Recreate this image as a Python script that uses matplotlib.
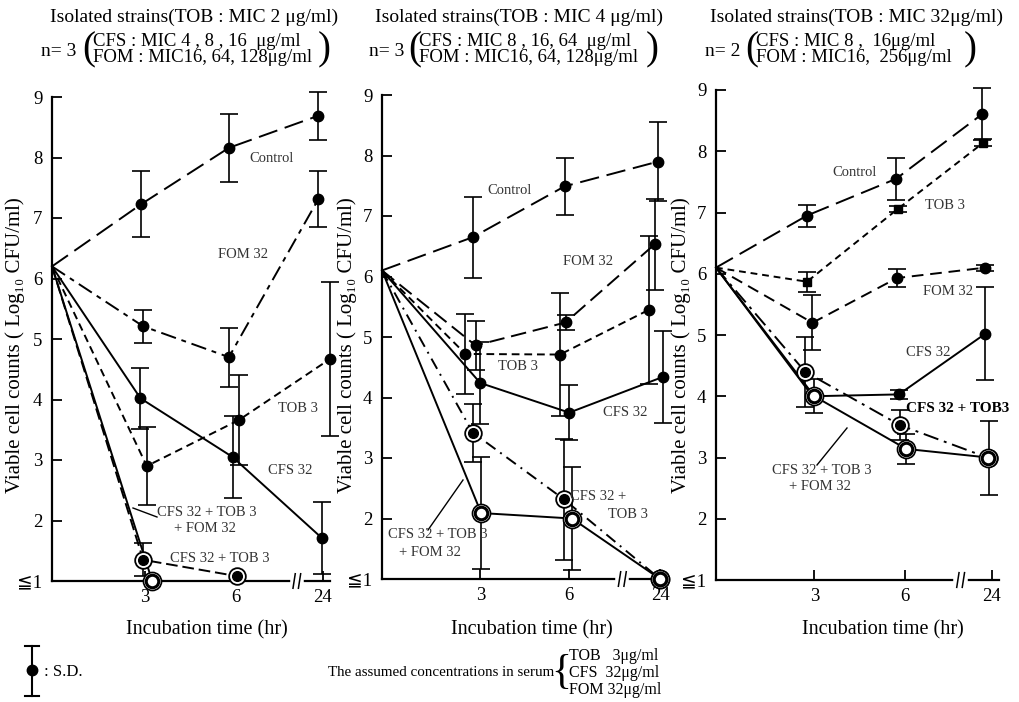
import matplotlib
matplotlib.use("Agg")
import matplotlib.pyplot as plt
from matplotlib.lines import Line2D

plt.rcParams["font.family"] = ["Liberation Serif", "DejaVu Sans"]

W, H = 1020, 702

# ---- data (log10 CFU/ml) ; first value is time 0 ----
times = ["3", "6", "24"]
y_ticks = [1, 2, 3, 4, 5, 6, 7, 8, 9]
y_labels = ["≦1", "2", "3", "4", "5", "6", "7", "8", "9"]

# panel 1: TOB MIC 2
p1_control = [6.2, 7.23, 8.16, 8.69]
p1_control_sd = [0, 0.55, 0.56, 0.40]
p1_fom = [6.2, 5.21, 4.70, 7.31]
p1_fom_sd = [0, 0.27, 0.49, 0.46]
p1_tob = [6.2, 2.90, 3.66, 4.67]
p1_tob_sd = [0, 0.65, 0.75, 1.27]
p1_cfs = [6.2, 4.02, 3.05, 1.71]
p1_cfs_sd = [0, 0.50, 0.67, 0.60]
p1_cfs_tob = [6.2, 1.35, 1.08]
p1_cfs_tob_sd = [0, 0.27, 0]
p1_triple = [6.2, 1.0]
p1_triple_sd = [0, 0]

# panel 2: TOB MIC 4
p2_control = [6.1, 6.65, 7.49, 7.90]
p2_control_sd = [0, 0.67, 0.47, 0.65]
p2_fom = [6.1, 4.86, 5.24, 6.53]
p2_fom_sd = [0, 0.40, 0.13, 0.75]
p2_tob = [6.1, 4.72, 4.71, 5.45]
p2_tob_sd = [0, 0.66, 1.02, 1.22]
p2_cfs = [6.1, 4.24, 3.75, 4.34]
p2_cfs_sd = [0, 0.68, 0.45, 0.76]
p2_cfs_tob = [6.1, 3.42, 2.32, 1.0]
p2_cfs_tob_sd = [0, 0.48, 1.0, 0]
p2_triple = [6.1, 2.09, 2.0, 1.0]
p2_triple_sd = [0, 0.92, 0.85, 0]

# panel 3: TOB MIC 32
p3_control = [6.1, 6.95, 7.55, 8.61]
p3_control_sd = [0, 0.18, 0.34, 0.43]
p3_tob = [6.1, 5.87, 7.06, 8.14]
p3_tob_sd = [0, 0.16, 0.05, 0.06]
p3_fom = [6.1, 5.20, 5.93, 6.10]
p3_fom_sd = [0, 0.45, 0.15, 0.05]
p3_cfs = [6.1, 4.0, 4.03, 5.02]
p3_cfs_sd = [0, 0, 0.08, 0.76]
p3_cfs_tob = [6.1, 4.40, 3.53, 2.99]
p3_cfs_tob_sd = [0, 0.57, 0.25, 0.60]
p3_triple = [6.1, 4.0, 3.14, 3.0]
p3_triple_sd = [0, 0.28, 0.25, 0]


def fx(x):
    return x / W


def fy(y):
    return 1 - y / H


def open_ring(ax, x, v):
    ax.plot(x, v, "o", ms=13, mfc="white", mec="k", mew=1.2,
            zorder=5, clip_on=False)
    ax.plot(x, v, "o", ms=9, mfc="white", mec="k", mew=2.2,
            zorder=6, clip_on=False)


def draw_series(ax, pos, vals, sd, dashes, marker, dx):
    xs = [p + d for p, d in zip(pos, dx)]
    ax.plot(xs[:len(vals)], vals, color="k", lw=1.4, dashes=dashes,
            zorder=2, clip_on=False)
    for x, v, s in zip(xs[1:], vals[1:], sd[1:]):
        if s > 0:
            ax.errorbar(x, v, yerr=s, fmt="none", ecolor="k", elinewidth=1.2,
                        capsize=6.5, capthick=1.2, zorder=3, clip_on=False)
        if marker == "dot":
            ax.plot(x, v, "o", ms=7.5, color="k", zorder=4, clip_on=False)
        elif marker == "square":
            ax.plot(x, v, "s", ms=5.5, color="k", zorder=4, clip_on=False)
        elif marker == "ring_dot":
            ax.plot(x, v, "o", ms=12, mfc="white", mec="k", mew=1.3,
                    zorder=5, clip_on=False)
            ax.plot(x, v, "o", ms=7, color="k", zorder=6, clip_on=False)
        elif marker == "open":
            open_ring(ax, x, v)


def setup_axes(rect, pos, brk):
    ax = fig.add_axes(rect)
    ax.set_xlim(0, 3.08)
    ax.set_ylim(1, 9)
    for s in ["top", "right"]:
        ax.spines[s].set_visible(False)
    for s in ["left", "bottom"]:
        ax.spines[s].set_linewidth(1.6)
    ax.set_xticks(pos[1:])
    ax.set_xticklabels(times)
    ax.set_yticks(y_ticks)
    ax.set_yticklabels(y_labels)
    ax.tick_params(axis="y", direction="in", length=7, width=1.3,
                   labelsize=13.5, pad=7)
    ax.tick_params(axis="x", direction="in", length=7, width=1.3,
                   labelsize=13.5, pad=6)
    # axis break on the time axis
    ax.plot([brk - 0.045, brk + 0.045], [1, 1], color="white", lw=4,
            zorder=7, clip_on=False)
    for b in (brk - 0.04, brk + 0.02):
        ax.plot([b, b + 0.025], [0.88, 1.12], color="k", lw=1.1,
                zorder=8, clip_on=False)
    return ax


fig = plt.figure(figsize=(W / 100, H / 100), dpi=100)

# ---------- panel 1 ----------
pos1 = [0, 1.03, 2.04, 3.0]
ax1 = setup_axes([fx(52), fy(581), 278 / W, 484 / H], pos1, 2.71)
draw_series(ax1, pos1, p1_control, p1_control_sd, (10, 4), "dot", [0, -0.04, -0.08, -0.05])
draw_series(ax1, pos1, p1_fom, p1_fom_sd, (8, 3, 2.5, 3), "dot", [0, -0.02, -0.08, -0.05])
draw_series(ax1, pos1, p1_tob, p1_tob_sd, (4, 2.5), "dot", [0, 0.02, 0.03, 0.08])
draw_series(ax1, pos1, p1_cfs, p1_cfs_sd, (None, None), "dot", [0, -0.05, -0.04, -0.01])
draw_series(ax1, pos1, p1_cfs_tob, p1_cfs_tob_sd, (6, 2.5), "ring_dot", [0, -0.02, 0.01, 0])
draw_series(ax1, pos1, p1_triple, p1_triple_sd, (None, None), "open", [0, 0.08, 0, 0])

# ---------- panel 2 ----------
pos2 = [0, 1.06, 2.02, 3.0]
ax2 = setup_axes([fx(382), fy(579), 285.5 / W, 484 / H], pos2, 2.59)
draw_series(ax2, pos2, p2_control, p2_control_sd, (10, 4), "dot", [0, -0.08, -0.05, -0.02])
draw_series(ax2, pos2, p2_fom, p2_fom_sd, (8, 3.5), "dot", [0, -0.05, -0.04, -0.06])
draw_series(ax2, pos2, p2_tob, p2_tob_sd, (4, 2.5), "dot", [0, -0.16, -0.1, -0.12])
draw_series(ax2, pos2, p2_cfs, p2_cfs_sd, (None, None), "dot", [0, 0.0, 0.0, 0.03])
draw_series(ax2, pos2, p2_cfs_tob, p2_cfs_tob_sd, (6, 3, 1, 3), "ring_dot", [0, -0.08, -0.06, 0])
draw_series(ax2, pos2, p2_triple, p2_triple_sd, (None, None), "open", [0, 0.01, 0.03, 0])
open_ring(ax2, pos2[3], p2_triple[3])

# ---------- panel 3 ----------
pos3 = [0, 1.07, 2.06, 3.0]
ax3 = setup_axes([fx(716), fy(580), 283 / W, 490 / H], pos3, 2.66)
draw_series(ax3, pos3, p3_control, p3_control_sd, (10, 4), "dot", [0, -0.08, -0.1, -0.1])
draw_series(ax3, pos3, p3_tob, p3_tob_sd, (3.5, 2.5), "square", [0, -0.08, -0.08, -0.09])
draw_series(ax3, pos3, p3_fom, p3_fom_sd, (6, 3.5), "dot", [0, -0.02, -0.09, -0.07])
draw_series(ax3, pos3, p3_cfs, p3_cfs_sd, (None, None), "dot", [0, -0.02, -0.07, -0.07])
draw_series(ax3, pos3, p3_cfs_tob, p3_cfs_tob_sd, (8, 3, 1.5, 3), "ring_dot", [0, -0.1, -0.06, -0.03])
draw_series(ax3, pos3, p3_triple, p3_triple_sd, (None, None), "open", [0, 0.0, 0.01, -0.04])

# ---------- axis titles ----------
ylab = "Viable cell counts ( Log₁₀ CFU/ml)"
for x in (15, 347, 681):
    fig.text(fx(x), fy(345), ylab, rotation=90, ha="center", va="center",
             fontsize=15)
for x in (207, 532, 883):
    fig.text(fx(x), fy(630), "Incubation time (hr)", ha="center",
             va="center", fontsize=14.5)

# ---------- headers ----------
hdr = dict(fontsize=14, va="center")
sub = dict(fontsize=13.5, va="center")
headers = [
    (50, "Isolated strains(TOB : MIC 2 μg/ml)", 41, "n= 3", 82,
     "CFS : MIC 4 , 8 , 16  μg/ml", "FOM : MIC16, 64, 128μg/ml", 318),
    (375, "Isolated strains(TOB : MIC 4 μg/ml)", 369, "n= 3", 408,
     "CFS : MIC 8 , 16, 64  μg/ml", "FOM : MIC16, 64, 128μg/ml", 646),
    (710, "Isolated strains(TOB : MIC 32μg/ml)", 705, "n= 2", 745,
     "CFS : MIC 8 ,  16μg/ml", "FOM : MIC16,  256μg/ml", 964),
]
for x1, t1, xn, tn, xp, l1, l2, xr in headers:
    fig.text(fx(x1), fy(17), t1, **hdr)
    fig.text(fx(xn), fy(51), tn, **hdr)
    fig.text(fx(xp), fy(50), "(", fontsize=28, va="center")
    fig.text(fx(xp + 11), fy(42), l1, **sub)
    fig.text(fx(xp + 11), fy(58), l2, **sub)
    fig.text(fx(xr), fy(50), ")", fontsize=28, va="center")

# ---------- curve labels ----------
lab = dict(fontsize=10.5, color="#333333", ha="center", va="center")
curve_labels = [
    (272, 159, "Control"), (243, 254, "FOM 32"), (298, 409, "TOB 3"),
    (290, 470, "CFS 32"), (207, 512, "CFS 32 + TOB 3"), (205, 529, "+ FOM 32"),
    (220, 558, "CFS 32 + TOB 3"),
    (510, 191, "Control"), (588, 262, "FOM 32"), (518, 367, "TOB 3"),
    (625, 413, "CFS 32"), (598, 497, "CFS 32 +"), (628, 515, "TOB 3"),
    (438, 535, "CFS 32 + TOB 3"), (430, 553, "+ FOM 32"),
    (855, 173, "Control"), (945, 206, "TOB 3"), (948, 291, "FOM 32"),
    (928, 352, "CFS 32"), (822, 471, "CFS 32 + TOB 3"), (820, 487, "+ FOM 32"),
]
for x, y, t in curve_labels:
    fig.text(fx(x), fy(y), t, **lab)
fig.text(fx(958), fy(409), "CFS 32 + TOB3", fontsize=11, ha="center",
         va="center", fontweight="bold")

for (xa, ya), (xb, yb) in [((133, 508), (157, 517)),
                           ((428, 530), (463, 480)),
                           ((817, 465), (847, 428))]:
    fig.add_artist(Line2D([fx(xa), fx(xb)], [fy(ya), fy(yb)], color="k", lw=1))

# ---------- S.D. key and serum concentrations ----------
fig.add_artist(Line2D([fx(32), fx(32)], [fy(646), fy(696)], color="k", lw=1.5))
for y in (646, 696):
    fig.add_artist(Line2D([fx(25), fx(39)], [fy(y), fy(y)], color="k", lw=1.5))
fig.add_artist(Line2D([fx(32)], [fy(670)], marker="o", ms=7.5, color="k"))
fig.text(fx(44), fy(672), ": S.D.", fontsize=12, va="center")

fig.text(fx(328), fy(673), "The assumed concentrations in serum",
         fontsize=10.8, va="center")
fig.text(fx(561), fy(673), "{", fontsize=30, ha="center", va="center")
fig.text(fx(569), fy(656), "TOB   3μg/ml", fontsize=11.5, va="center")
fig.text(fx(569), fy(673), "CFS  32μg/ml", fontsize=11.5, va="center")
fig.text(fx(569), fy(690), "FOM 32μg/ml", fontsize=11.5, va="center")

fig.savefig("out.png", dpi=100, facecolor="white")
